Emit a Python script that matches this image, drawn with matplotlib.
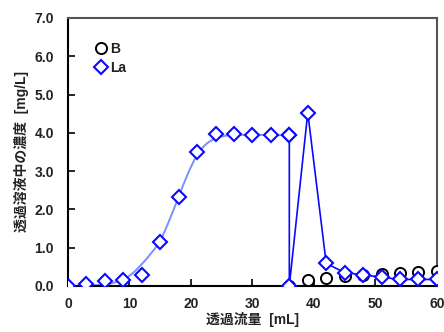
import numpy as np
import matplotlib
matplotlib.use("Agg")
import matplotlib.pyplot as plt
from matplotlib.path import Path
from matplotlib.patches import PathPatch
from matplotlib.ticker import MultipleLocator

plt.rcParams['font.family'] = ['Liberation Sans', 'Noto Sans CJK JP', 'DejaVu Sans']

# La, first run (breakthrough) - markers
la1_x = [0, 3, 6, 9, 12, 15, 18, 21, 24, 27, 30, 33, 36]
la1_y = [0.0, 0.05, 0.12, 0.16, 0.29, 1.16, 2.33, 3.51, 3.96, 3.96, 3.94, 3.94, 3.94]

# smooth fitted curve
fit_x = [0, 3, 6, 7.5, 9, 10.5, 12, 13.5, 15, 16.5, 18, 19.5, 21, 22.5, 24, 25.5, 27, 30, 33, 36]
fit_y = [0.0, 0.01, 0.04, 0.09, 0.17, 0.33, 0.57, 0.85, 1.18, 1.72, 2.33, 2.93, 3.42, 3.71, 3.85, 3.92, 3.94, 3.95, 3.94, 3.94]

# La, second run (elution)
la2_x = [36, 36, 39, 42, 45, 48, 51, 54, 57, 60]
la2_y = [3.94, 0.0, 4.53, 0.59, 0.35, 0.29, 0.23, 0.17, 0.17, 0.17]

# B
b_x = [36, 39, 42, 45, 48, 51, 54, 57, 60]
b_y = [0.0, 0.15, 0.2, 0.25, 0.29, 0.32, 0.35, 0.37, 0.39]


def SmoothPath(xs, ys):
	# Catmull-Rom through the points, as bezier segments
	pts = np.column_stack([xs, ys]).astype(float)
	verts = [pts[0]]
	codes = [Path.MOVETO]
	n = len(pts)
	for i in range(n - 1):
		p0 = pts[max(i - 1, 0)]
		p1 = pts[i]
		p2 = pts[i + 1]
		p3 = pts[min(i + 2, n - 1)]
		c1 = p1 + (p2 - p0) / 6.0
		c2 = p2 - (p3 - p1) / 6.0
		verts.extend([c1, c2, p2])
		codes.extend([Path.CURVE4] * 3)
	return Path(verts, codes)


fig = plt.figure(figsize=(4.44, 3.32), dpi=100)
ax = fig.add_axes([0.153, 0.1386, 0.831, 0.8072])

blue = "#0a0aff"
txt = "#222222"

ax.add_patch(PathPatch(SmoothPath(fit_x, fit_y), facecolor="none",
                       edgecolor="#7a90ff", lw=1.4, zorder=2))

ax.plot(b_x, b_y, linestyle="none", marker="o", markersize=8,
        markerfacecolor="white", markeredgecolor="black", markeredgewidth=1.4,
        zorder=3, label="B")
ax.plot(la2_x, la2_y, color=blue, lw=1.2, marker="D", markersize=7.5,
        markerfacecolor="white", markeredgecolor=blue, markeredgewidth=1.5, zorder=4)
ax.plot(la1_x, la1_y, linestyle="none", marker="D", markersize=7.5,
        markerfacecolor="white", markeredgecolor=blue, markeredgewidth=1.5,
        zorder=5, label="La")

ax.set_xlim(0, 60)
ax.set_ylim(0, 7)
ax.xaxis.set_major_locator(MultipleLocator(10))
ax.yaxis.set_major_locator(MultipleLocator(1))
ax.yaxis.set_major_formatter(plt.FormatStrFormatter("%.1f"))

ax.tick_params(axis="both", direction="in", length=5, width=1.2, colors="black",
               labelcolor=txt, labelsize=10)
ax.tick_params(axis="x", pad=8)
ax.tick_params(axis="y", pad=10)
for lab in ax.get_xticklabels() + ax.get_yticklabels():
	lab.set_fontweight("bold")

for side in ["left", "bottom"]:
	ax.spines[side].set_linewidth(1.5)
	ax.spines[side].set_color("black")
for side in ["top", "right"]:
	ax.spines[side].set_linewidth(1.5)
	ax.spines[side].set_color("#555555")

ax.set_xlabel("透過流量  [mL]", fontsize=10, fontweight="bold", color=txt, labelpad=1)
ax.set_ylabel("透過溶液中の濃度  [mg/L]", fontsize=10, fontweight="bold", color=txt, labelpad=4)

leg = ax.legend(loc="upper left", bbox_to_anchor=(0.055, 0.935), frameon=False,
                handlelength=0.8, handletextpad=0.3, borderpad=0, labelspacing=0.3,
                prop={"size": 10, "weight": "bold"})
for t in leg.get_texts():
	t.set_color(txt)

fig.savefig("out.png", dpi=100)
